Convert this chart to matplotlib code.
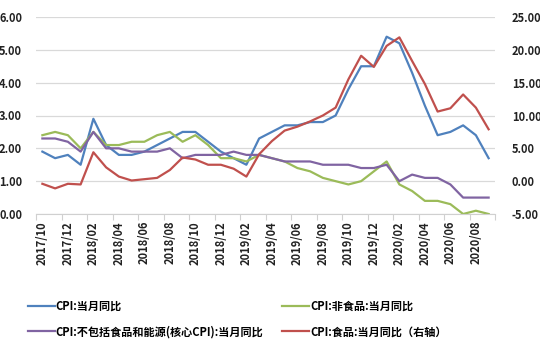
import numpy as np
import matplotlib
matplotlib.use('Agg')
import matplotlib.pyplot as plt
from matplotlib.ticker import FixedLocator, FormatStrFormatter

plt.rcParams['font.family'] = ['Noto Sans CJK SC', 'DejaVu Sans']

months = ['2017/10', '2017/11', '2017/12',
          '2018/01', '2018/02', '2018/03', '2018/04', '2018/05', '2018/06',
          '2018/07', '2018/08', '2018/09', '2018/10', '2018/11', '2018/12',
          '2019/01', '2019/02', '2019/03', '2019/04', '2019/05', '2019/06',
          '2019/07', '2019/08', '2019/09', '2019/10', '2019/11', '2019/12',
          '2020/01', '2020/02', '2020/03', '2020/04', '2020/05', '2020/06',
          '2020/07', '2020/08', '2020/09']

cpi = [1.9, 1.7, 1.8, 1.5, 2.9, 2.1, 1.8, 1.8, 1.9, 2.1, 2.3, 2.5,
       2.5, 2.2, 1.9, 1.7, 1.5, 2.3, 2.5, 2.7, 2.7, 2.8, 2.8, 3.0,
       3.8, 4.5, 4.5, 5.4, 5.2, 4.3, 3.3, 2.4, 2.5, 2.7, 2.4, 1.7]
non_food = [2.4, 2.5, 2.4, 2.0, 2.5, 2.1, 2.1, 2.2, 2.2, 2.4, 2.5, 2.2,
            2.4, 2.1, 1.7, 1.7, 1.6, 1.8, 1.7, 1.6, 1.4, 1.3, 1.1, 1.0,
            0.9, 1.0, 1.3, 1.6, 0.9, 0.7, 0.4, 0.4, 0.3, 0.0, 0.1, 0.0]
core = [2.3, 2.3, 2.2, 1.9, 2.5, 2.0, 2.0, 1.9, 1.9, 1.9, 2.0, 1.7,
        1.8, 1.8, 1.8, 1.9, 1.8, 1.8, 1.7, 1.6, 1.6, 1.6, 1.5, 1.5,
        1.5, 1.4, 1.4, 1.5, 1.0, 1.2, 1.1, 1.1, 0.9, 0.5, 0.5, 0.5]
food = [-0.4, -1.1, -0.4, -0.5, 4.4, 2.1, 0.7, 0.1, 0.3, 0.5, 1.7, 3.6,
        3.3, 2.5, 2.5, 1.9, 0.7, 4.1, 6.1, 7.7, 8.3, 9.1, 10.0, 11.2,
        15.5, 19.1, 17.4, 20.6, 21.9, 18.3, 14.8, 10.6, 11.1, 13.2, 11.2, 7.9]

labels = ['CPI:当月同比', 'CPI:非食品:当月同比',
          'CPI:不包括食品和能源(核心CPI):当月同比', 'CPI:食品:当月同比（右轴）']
colors = ['#4F81BD', '#9BBB59', '#8064A2', '#C0504D']

x = np.arange(len(months))

fig = plt.figure(figsize=(5.4, 3.6), dpi=100)
ax = fig.add_axes([36/540, 1 - 214/360, (495 - 36)/540, (214 - 17)/360])
ax2 = ax.twinx()

l1, = ax.plot(x, cpi, color=colors[0], lw=1.6)
l2, = ax.plot(x, non_food, color=colors[1], lw=1.6)
l3, = ax.plot(x, core, color=colors[2], lw=1.6)
l4, = ax2.plot(x, food, color=colors[3], lw=1.6)

ax.set_xlim(-0.5, len(months) - 0.5)
ax.set_ylim(0, 6)
ax2.set_ylim(-5, 25)
ax.set_yticks(np.arange(0, 7, 1))
ax2.set_yticks(np.arange(-5, 30, 5))
ax.yaxis.set_major_formatter(FormatStrFormatter('%.2f'))
ax2.yaxis.set_major_formatter(FormatStrFormatter('%.2f'))

ax.set_xticks(x[::2])
ax.set_xticklabels(months[::2], rotation=90)
ax.xaxis.set_minor_locator(FixedLocator(np.arange(-0.5, len(months), 2)))
ax.tick_params(axis='x', which='major', length=0, pad=5, labelsize=8, colors='#222222')
ax.tick_params(axis='x', which='minor', length=4, color='#D0D0D0', width=0.8)
ax.tick_params(axis='y', length=0, labelsize=8, colors='#222222', pad=10)
ax2.tick_params(axis='y', length=0, labelsize=8, colors='#222222', pad=12)
for t in ax.get_xticklabels() + ax.get_yticklabels() + ax2.get_yticklabels():
    t.set_fontweight('bold')

ax.grid(axis='y', color='#D9D9D9', lw=0.9)
ax.set_axisbelow(True)
for s in ['top', 'left', 'right']:
    ax.spines[s].set_visible(False)
    ax2.spines[s].set_visible(False)
ax.spines['bottom'].set_color('#D0D0D0')
ax2.spines['bottom'].set_visible(False)

# legend fills column by column, so order as CPI, core | non-food, food
leg = fig.legend([l1, l3, l2, l4], [labels[0], labels[2], labels[1], labels[3]],
                 loc='upper left', bbox_to_anchor=(18/540, 1 - 290/360), ncol=2,
                 frameon=False, handlelength=2.4, handletextpad=0.1,
                 columnspacing=1.7, labelspacing=1.1,
                 prop={'size': 8, 'weight': 'bold'})

fig.savefig('out.png', dpi=100)
